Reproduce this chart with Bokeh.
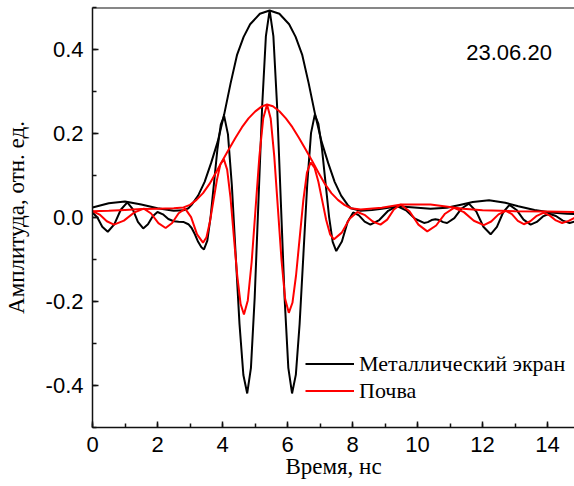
from bokeh.plotting import figure
from bokeh.models import (Range1d, SingleIntervalTicker, PrintfTickFormatter,
                          Legend, LegendItem, Label, Span)
from bokeh.embed import file_html
from bokeh.resources import INLINE

# ---- data ----
metal_x = [0.00, 0.15, 0.30, 0.47, 0.67, 0.87, 1.07, 1.233, 1.397, 1.56, 1.707, 1.853,
           2.00, 2.167, 2.333, 2.50, 2.65, 2.81, 2.95, 3.05, 3.15, 3.25, 3.35, 3.43,
           3.533, 3.637, 3.74, 3.843, 3.947, 4.05,
           4.168, 4.287, 4.405, 4.523, 4.642, 4.76,
           4.875, 4.99, 5.105, 5.22, 5.335, 5.45,
           5.565, 5.68, 5.795, 5.91, 6.025, 6.14,
           6.257, 6.373, 6.49, 6.607, 6.723, 6.84,
           6.95, 7.06, 7.17, 7.28, 7.39, 7.50,
           7.673, 7.847, 8.02, 8.197, 8.373, 8.55, 8.823, 9.097, 9.37, 9.647, 9.923,
           10.2, 10.317, 10.433, 10.55, 10.67, 10.79, 10.91, 11.133, 11.357, 11.58,
           11.803, 12.027, 12.25, 12.443, 12.637, 12.83, 13.047, 13.263, 13.48,
           13.67, 13.86, 14.05, 14.26, 14.47, 14.68, 15.0]
metal_y = [0.012, 0.000, -0.022, -0.034, -0.0165, 0.0185, 0.036, 0.0205, -0.0105, -0.026, -0.016, 0.003,
           0.013, 0.0075, -0.0035, -0.009, -0.010, -0.011, -0.016, -0.025, -0.040, -0.058, -0.071, -0.076,
           -0.055, 0.0035, 0.083, 0.1625, 0.221, 0.242,
           0.198, 0.077, -0.0885, -0.254, -0.375, -0.419,
           -0.358, -0.191, 0.037, 0.265, 0.432, 0.493,
           0.432, 0.265, 0.037, -0.191, -0.358, -0.419,
           -0.374, -0.253, -0.087, 0.079, 0.201, 0.245,
           0.223, 0.164, 0.0825, 0.001, -0.058, -0.080,
           -0.057, -0.011, 0.012, 0.005, -0.010, -0.017, -0.006, 0.016, 0.027, 0.017, -0.003,
           -0.013, -0.011, -0.006, -0.004, -0.006, -0.011, -0.013, -0.0015, 0.0215, 0.033,
           0.015, -0.022, -0.040, -0.0225, 0.0125, 0.030, 0.018, -0.005, -0.017,
           -0.0105, 0.0025, 0.009, 0.0035, -0.0075, -0.013, -0.006]

metal_env_x = [0.0, 0.5, 1.0, 1.5, 2.0, 2.5, 2.8, 2.95, 3.05, 3.25, 3.45, 3.65, 3.85, 4.05,
               4.25, 4.45, 4.65, 4.85, 5.15, 5.45, 5.75, 6.05, 6.25, 6.45, 6.65, 6.85,
               7.05, 7.25, 7.45, 7.65, 7.85, 7.95, 8.25, 8.6, 8.9, 9.4, 9.9, 10.4, 10.9,
               11.3, 11.7, 12.2, 12.7, 13.1, 13.6, 14.1, 14.6, 15.0]
metal_env_y = [0.024, 0.034, 0.038, 0.031, 0.022, 0.016, 0.017, 0.022, 0.030, 0.052, 0.085, 0.13, 0.18, 0.245,
               0.32, 0.388, 0.43, 0.46, 0.485, 0.493, 0.485, 0.46, 0.43, 0.388, 0.32, 0.245,
               0.18, 0.13, 0.085, 0.052, 0.030, 0.022, 0.016, 0.018, 0.021, 0.027, 0.024, 0.021, 0.023,
               0.030, 0.037, 0.041, 0.035, 0.027, 0.018, 0.012, 0.009, 0.008]

soil_x = [0.00, 0.22, 0.44, 0.66, 0.967, 1.273, 1.58, 1.803, 2.027, 2.25, 2.45, 2.65, 2.85,
          3.033, 3.217, 3.40,
          3.507, 3.613, 3.72, 3.827, 3.933, 4.04,
          4.143, 4.247, 4.35, 4.453, 4.557, 4.66,
          4.778, 4.897, 5.015, 5.133, 5.252, 5.37,
          5.482, 5.593, 5.705, 5.817, 5.928, 6.04,
          6.152, 6.263, 6.375, 6.487, 6.598, 6.71,
          6.83, 6.95, 7.07, 7.19, 7.31, 7.43,
          7.67, 7.91, 8.15, 8.387, 8.623, 8.86, 9.067, 9.273, 9.48, 9.753, 10.027, 10.3,
          10.573, 10.847, 11.12, 11.427, 11.733, 12.04, 12.267, 12.493, 12.72, 12.903,
          13.087, 13.27, 13.47, 13.67, 13.87, 14.063, 14.257, 14.45, 14.65, 14.85, 15.0]
soil_y = [0.015, 0.007, -0.009, -0.017, -0.0075, 0.0115, 0.021, 0.0095, -0.0135, -0.025, -0.013, 0.010, 0.021,
          0.001, -0.040, -0.060,
          -0.047, -0.010, 0.0395, 0.089, 0.126, 0.139,
          0.114, 0.0465, -0.046, -0.1385, -0.206, -0.231,
          -0.1975, -0.106, 0.019, 0.144, 0.2355, 0.269,
          0.236, 0.145, 0.021, -0.103, -0.194, -0.227,
          -0.203, -0.1375, -0.048, 0.0415, 0.107, 0.131,
          0.119, 0.085, 0.0395, -0.006, -0.040, -0.052,
          -0.036, -0.003, 0.013, 0.0055, -0.0095, -0.017, -0.005, 0.019, 0.031, 0.015, -0.017, -0.033,
          -0.019, 0.009, 0.023, 0.0128, -0.0078, -0.018, -0.0095, 0.0075, 0.016, 0.008,
          -0.008, -0.016, -0.009, 0.004, 0.011, 0.005, -0.007, -0.013, -0.008, 0.000, 0.004]

soil_env_x = [0.0, 0.5, 1.0, 1.5, 2.0, 2.5, 2.8, 3.0, 3.2, 3.4, 3.6, 3.8, 4.0, 4.2, 4.4, 4.6,
              4.8, 5.0, 5.2, 5.37, 5.55, 5.75, 5.95, 6.15, 6.35, 6.55, 6.75, 6.95, 7.15,
              7.35, 7.55, 7.75, 7.95, 8.25, 8.9, 9.5, 10.4, 11.4, 12.0, 13.0, 14.0, 15.0]
soil_env_y = [0.015, 0.016, 0.018, 0.020, 0.021, 0.022, 0.024, 0.030, 0.042, 0.058, 0.080, 0.107, 0.136, 0.163, 0.190, 0.215,
              0.236, 0.252, 0.264, 0.269, 0.265, 0.253, 0.236, 0.215, 0.190, 0.163, 0.136, 0.107, 0.080,
              0.058, 0.042, 0.030, 0.022, 0.019, 0.023, 0.031, 0.031, 0.021, 0.017, 0.015, 0.014, 0.013]

x_ticks_step = 2
y_ticks_step = 0.2
date_text = "23.06.20"
x_title = "Время, нс"
y_title = "Амплитуда, отн. ед."
series_names = ["Металлический экран", "Почва"]

# ---- figure ----
p = figure(width=574, height=486, output_backend="svg", toolbar_location=None,
           x_range=Range1d(0, 14.83), y_range=Range1d(-0.5, 0.5),
           min_border_left=92, min_border_right=0, min_border_top=7, min_border_bottom=59)
p.outline_line_color = None
p.grid.visible = False
p.background_fill_color = "white"
p.border_fill_color = "white"

r_me = p.line(metal_env_x, metal_env_y, line_color="black", line_width=2)
r_m = p.line(metal_x, metal_y, line_color="black", line_width=2)
r_se = p.line(soil_env_x, soil_env_y, line_color="#ff0000", line_width=2)
r_s = p.line(soil_x, soil_y, line_color="#ff0000", line_width=2)

for ax, step in ((p.xaxis[0], x_ticks_step), (p.yaxis[0], y_ticks_step)):
    ax.ticker = SingleIntervalTicker(interval=step, num_minor_ticks=2)
    ax.major_tick_in = 6
    ax.major_tick_out = 0
    ax.minor_tick_in = 4
    ax.minor_tick_out = 0
    ax.axis_line_width = 1.5
    ax.axis_line_color = "#111111"
    ax.major_tick_line_width = 1.5
    ax.minor_tick_line_width = 1.5
    ax.major_tick_line_color = "#111111"
    ax.minor_tick_line_color = "#111111"
    ax.major_label_text_font = "Liberation Sans"
    ax.major_label_text_font_size = "22px"
    ax.major_label_text_color = "black"
    ax.axis_label_text_font = "Liberation Serif"
    ax.axis_label_text_font_size = "23px"
    ax.axis_label_text_font_style = "normal"
    ax.axis_label_text_color = "black"

p.xaxis[0].axis_label = x_title
p.xaxis[0].major_label_standoff = 9
p.xaxis[0].axis_label_standoff = -1
p.yaxis[0].axis_label = y_title
p.yaxis[0].formatter = PrintfTickFormatter(format="%.1f")
p.yaxis[0].major_label_standoff = 9
p.yaxis[0].axis_label_standoff = 14

p.add_layout(Span(location=0.5, dimension="width", line_color="#111111", line_width=2))

legend = Legend(items=[LegendItem(label=series_names[0], renderers=[r_m]),
                       LegendItem(label=series_names[1], renderers=[r_s])],
                location=(213, 23), padding=0, spacing=0, margin=0,
                glyph_width=49, glyph_height=27, label_height=27, label_standoff=5,
                label_text_font="Liberation Serif", label_text_font_size="22px",
                label_text_color="black",
                border_line_color=None, background_fill_alpha=0)
p.add_layout(legend)

p.add_layout(Label(x=11.5, y=0.392, text=date_text, text_font="Liberation Sans",
                   text_font_size="22px", text_baseline="alphabetic", text_align="left",
                   text_color="black"))

open("out.html", "w").write(file_html(p, INLINE))
